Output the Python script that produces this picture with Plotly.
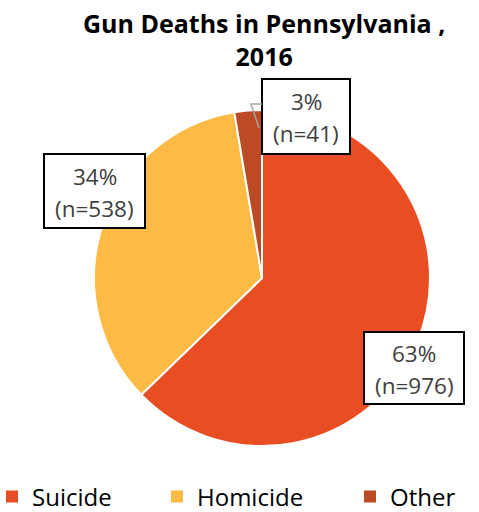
import plotly.graph_objects as go

W, H = 479, 512

title_text = "Gun Deaths in Pennsylvania ,<br>2016"
categories = ["Suicide", "Homicide", "Other"]
counts = [976, 538, 41]
pct_labels = ["63%", "34%", "3%"]
colors = ["#E94E23", "#FDBA45", "#BB4A25"]

FONT = "Open Sans"

def px(x):
    return x / W

def py(y):
    return 1 - y / H

fig = go.Figure()
fig.add_trace(go.Pie(
    labels=categories,
    values=counts,
    sort=False,
    direction="clockwise",
    rotation=0,
    textinfo="none",
    textposition="none",
    marker=dict(colors=colors, line=dict(color="white", width=2)),
    domain=dict(x=[px(94), px(430)], y=[py(446), py(110)]),
    hoverinfo="label+value+percent",
    showlegend=False,
))

# legend entries, one legend per category so spacing follows the reference
legend_x = [-8, 157, 350]
legend_names = ["legend", "legend2", "legend3"]
legend_layout = {}
for name, col, lx, lg in zip(categories, colors, legend_x, legend_names):
    fig.add_trace(go.Scatter(
        x=[None], y=[None], mode="markers", name=name,
        marker=dict(symbol="square", size=12, color=col),
        legend=lg, showlegend=True, hoverinfo="skip",
    ))
    legend_layout[lg] = dict(
        orientation="h", x=px(lx), xanchor="left", y=py(497), yanchor="middle",
        font=dict(family=FONT, size=24, color="black"),
        bgcolor="rgba(0,0,0,0)", borderwidth=0,
    )

# label boxes: left, top, right, bottom in pixels
boxes = [(364, 332, 464, 404), (44, 154, 145, 228), (262, 79, 350, 154)]
shapes = []
annotations = []
for (x0, y0, x1, y1), p, n in zip(boxes, pct_labels, counts):
    cx = (x0 + x1) / 2
    cy = (y0 + y1) / 2
    shapes.append(dict(
        type="rect", xref="paper", yref="paper",
        x0=px(x0), x1=px(x1), y0=py(y1), y1=py(y0),
        fillcolor="white", line=dict(color="black", width=2), layer="above",
    ))
    for txt, dy in ((p, -15), (f"(n={n})", 17)):
        annotations.append(dict(
            x=px(cx), y=py(cy + dy), xref="paper", yref="paper",
            text=txt, showarrow=False,
            font=dict(family=FONT, size=22.5, color="#404040"),
            xanchor="center", yanchor="middle",
        ))

# leader line from the 3% box to the "Other" slice
shapes.append(dict(
    type="path", xref="paper", yref="paper",
    path=f"M {px(262)} {py(104)} L {px(251)} {py(104)} L {px(259)} {py(128)}",
    line=dict(color="#A6A6A6", width=1.5), layer="above",
))

annotations.append(dict(
    x=px(264), y=py(39), xref="paper", yref="paper",
    text=f"<b>{title_text}</b>", showarrow=False,
    font=dict(family=FONT, size=25, color="black"),
    xanchor="center", yanchor="middle", align="center",
))

fig.update_layout(
    width=W, height=H,
    margin=dict(l=0, r=0, t=0, b=0, autoexpand=False),
    paper_bgcolor="white",
    plot_bgcolor="rgba(0,0,0,0)",
    font=dict(family=FONT, color="black"),
    xaxis=dict(visible=False),
    yaxis=dict(visible=False),
    annotations=annotations,
    shapes=shapes,
    **legend_layout,
)

fig.write_html(
    "out.html",
    config={"displayModeBar": False},
    post_script="document.body.style.margin='0';",
)
